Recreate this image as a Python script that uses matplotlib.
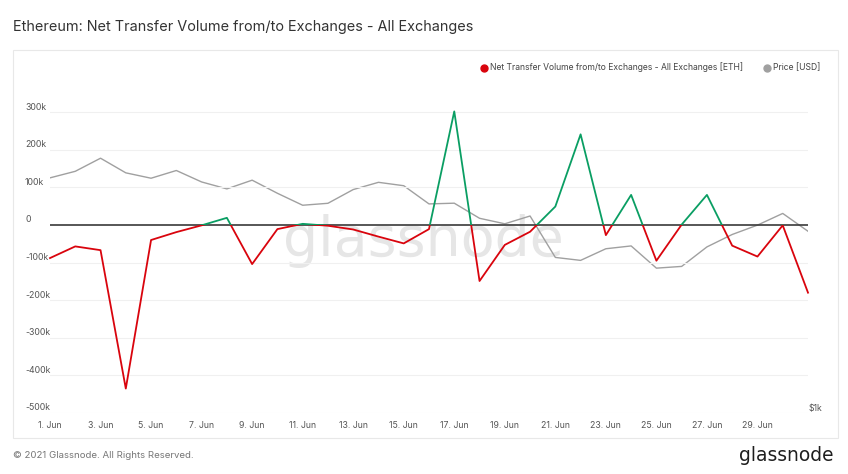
import numpy as np
import pandas as pd
import matplotlib
matplotlib.use('Agg')
import matplotlib.pyplot as plt
from matplotlib.patches import Rectangle
from matplotlib.lines import Line2D

# Data (daily, 1 Jun - 1 Jul 2021)
dates = pd.date_range('2021-06-01', '2021-07-01', freq='D')
net_flow_k = [-88, -57, -67, -435, -40, -19, -1, 19, -104, -11,
              3, -2, -12, -31, -49, -11, 302, -149, -53, -18,
              49, 241, -27, 80, -95, 1, 80, -55, -84, -1, -180]
price_usd = [2634, 2706, 2856, 2689, 2630, 2715, 2590, 2517, 2609, 2472,
             2353, 2372, 2510, 2586, 2550, 2366, 2373, 2230, 2180, 2251,
             1898, 1875, 1967, 1990, 1816, 1829, 1982, 2086, 2168, 2275, 2114]
y_ticks = [300000, 200000, 100000, 0, -100000, -200000, -300000, -400000, -500000]
y_labels = ['300k', '200k', '100k', '0', '-100k', '-200k', '-300k', '-400k', '-500k']

net_flow = np.array(net_flow_k) * 1000

W, H = 848, 474
RED = '#d9040d'
GREEN = '#0a9e63'
GREY = '#a0a0a0'
FONT = ['Inter', 'DejaVu Sans']


def fx(x):
    return x / W


def fy(y):
    return 1 - y / H


fig = plt.figure(figsize=(W / 100, H / 100), dpi=100)
fig.patch.set_facecolor('white')

# panel frame
fig.add_artist(Rectangle((fx(13), fy(438)), fx(838) - fx(13), fy(50) - fy(438),
                         transform=fig.transFigure, facecolor='white',
                         edgecolor='#e8e8e8', linewidth=0.8, zorder=-1))

left, right, top, bottom = 50, 808, 102, 413
ax = fig.add_axes([fx(left), fy(bottom), fx(right) - fx(left), fy(top) - fy(bottom)])
ax.set_facecolor('none')
for s in ax.spines.values():
    s.set_visible(False)

ax.set_xlim(dates[0], dates[-1])
ax.set_ylim(-500000, 327000)

# price on log twin axis (drawn underneath the flow line)
ax2 = ax.twinx()
ax2.set_yscale('log')
ax2.set_ylim(1000, 3600)
ax2.set_facecolor('none')
for s in ax2.spines.values():
    s.set_visible(False)
ax2.set_yticks([])
ax2.yaxis.set_minor_locator(matplotlib.ticker.NullLocator())
ax2.set_xlim(dates[0], dates[-1])
ax2.set_zorder(0)
ax.set_zorder(1)

# watermark behind everything
ax2.text(fx(423), fy(256), 'glassnode', transform=fig.transFigure, ha='center',
         va='baseline', fontsize=40, color='#e6e6e6', family='DejaVu Sans', zorder=0)
ax2.plot(dates, price_usd, color=GREY, linewidth=1.0, zorder=3)

# gridlines
for v in y_ticks:
    if v == 0:
        ax.axhline(0, color='#3a3a3a', linewidth=1.2, zorder=4)
    else:
        ax.axhline(v, color='#f0f0f0', linewidth=0.8, zorder=1)

# net flow: green above zero, red below
big = 1e7
x0 = matplotlib.dates.date2num(dates[0]) - 5
pos_line, = ax.plot(dates, net_flow, color=GREEN, linewidth=1.3, zorder=5)
neg_line, = ax.plot(dates, net_flow, color=RED, linewidth=1.3, zorder=5)
pos_line.set_clip_path(Rectangle((x0, 0), 100, big, transform=ax.transData))
neg_line.set_clip_path(Rectangle((x0, -big), 100, big, transform=ax.transData))

# ticks
ax.set_yticks([])
ax.tick_params(axis='x', length=0, pad=6, labelsize=6.3, labelcolor='#555555')
tick_dates = dates[0:30:2]
ax.set_xticks(tick_dates)
ax.set_xticklabels([f'{d.day}. {d:%b}' for d in tick_dates], family=FONT)

for v, lab in zip(y_ticks, y_labels):
    y_disp = ax.transData.transform((0, v))[1]
    fig.text(fx(25), (y_disp + 5) / H, lab, ha='left', va='center',
             fontsize=6.3, color='#555555', family=FONT)
fig.text(fx(809), fy(408), '$1k', ha='left', va='center', fontsize=6.3,
         color='#555555', family=FONT)

# title
fig.text(fx(13), fy(27), 'Ethereum: Net Transfer Volume from/to Exchanges - All Exchanges',
         ha='left', va='center', fontsize=10.4, color='#333333', family=FONT)

# legend
fig.add_artist(Line2D([fx(484)], [fy(67.5)], marker='o', markersize=5, color=RED,
                      linestyle='', transform=fig.transFigure))
fig.text(fx(490), fy(67.5), 'Net Transfer Volume from/to Exchanges - All Exchanges [ETH]',
         ha='left', va='center', fontsize=6.2, color='#444444', family=FONT)
fig.add_artist(Line2D([fx(767)], [fy(67.5)], marker='o', markersize=5, color=GREY,
                      linestyle='', transform=fig.transFigure))
fig.text(fx(773), fy(67.5), 'Price [USD]', ha='left', va='center', fontsize=6.2,
         color='#444444', family=FONT)

# footer
fig.text(fx(13), fy(456), '\u00a9 2021 Glassnode. All Rights Reserved.', ha='left',
         va='center', fontsize=6.95, color='#777777', family=FONT)
fig.text(fx(834), fy(461), 'glassnode', ha='right', va='baseline', fontsize=13.4,
         color='#1e1e1e', family='DejaVu Sans')

fig.savefig('out.png', dpi=100)
